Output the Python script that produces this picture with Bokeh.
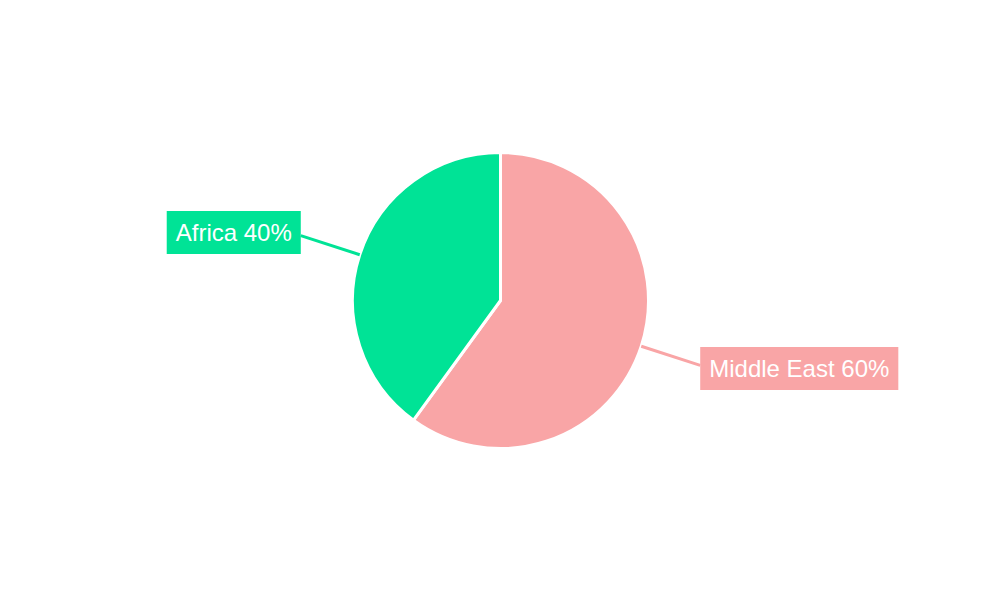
import numpy as np
from bokeh.plotting import figure
from bokeh.models import Range1d, Label
from bokeh.embed import file_html
from bokeh.resources import INLINE

categories = ["Middle East", "Africa"]
shares = [60, 40]
colors = ["#F9A5A6", "#00E396"]

W, H = 984, 584
p = figure(width=W, height=H, output_backend="svg", toolbar_location=None,
           x_range=Range1d(0, 984), y_range=Range1d(16, 600), min_border=0)
p.axis.visible = False
p.grid.visible = False
p.outline_line_color = None
p.background_fill_color = "white"
p.border_fill_color = "white"

cx, cy, R = 500, 300, 148
vals = np.array(shares, dtype=float)
frac = vals / vals.sum()
cum_end = np.cumsum(frac)
cum_start = cum_end - frac
start = np.pi / 2 - 2 * np.pi * cum_end
end = np.pi / 2 - 2 * np.pi * cum_start

p.wedge(x=cx, y=cy, radius=R, start_angle=start, end_angle=end,
        fill_color=colors, line_color="white", line_width=3)

for cat, v, c, s, e in zip(categories, shares, colors, start, end):
    mid = (s + e) / 2
    x0, y0 = cx + R * np.cos(mid), cy + R * np.sin(mid)
    x1, y1 = cx + 210 * np.cos(mid), cy + 210 * np.sin(mid)
    p.line([x0, x1], [y0, y1], line_color=c, line_width=3)
    right_side = np.cos(mid) > 0
    lab = Label(x=x1, y=y1 + (-3 if right_side else 3),
                text=f"{cat} {v}%", text_align="left" if right_side else "right",
                text_baseline="middle", text_color="white", text_font_size="24px",
                text_font="Liberation Sans", background_fill_color=c,
                padding=(9, 8))
    p.add_layout(lab)

open("out.html", "w").write(file_html(p, INLINE))
